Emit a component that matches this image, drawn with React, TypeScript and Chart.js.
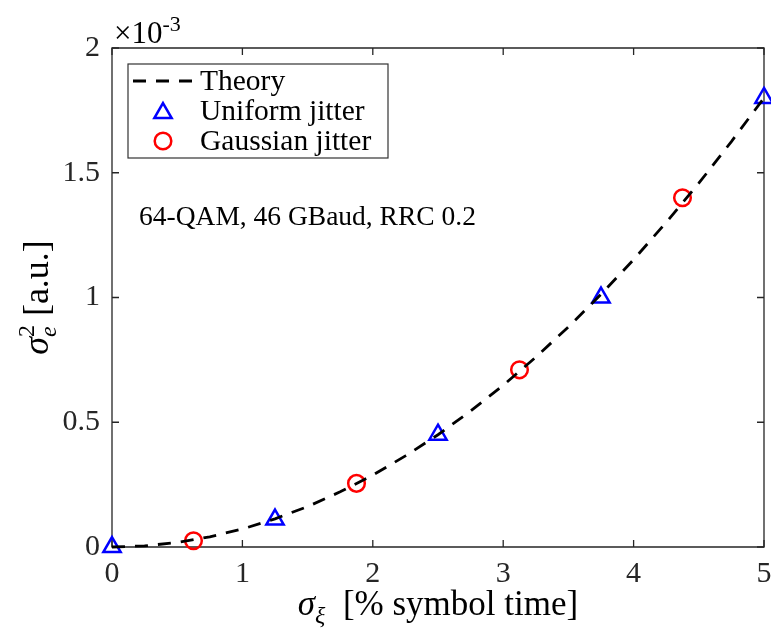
import React, { useEffect, useRef } from "react";
import { Chart, registerables } from "chart.js";

Chart.register(...registerables);

// ---- data (y values in units of 1e-3) ----
const xTicks = [0, 1, 2, 3, 4, 5];
const xTickLabels = ["0", "1", "2", "3", "4", "5"];
const yTicks = [0, 0.5, 1, 1.5, 2];
const yTickLabels = ["0", "0.5", "1", "1.5", "2"];
const yExponent = "-3";

const theoryX = [0, 0.25, 0.5, 0.75, 1, 1.25, 1.5, 1.75, 2, 2.25, 2.5, 2.75, 3, 3.25, 3.5, 3.75, 4, 4.25, 4.5, 4.75, 5];
const theoryY = [0, 0.0045, 0.018, 0.041, 0.072, 0.113, 0.162, 0.221, 0.288, 0.365, 0.45, 0.545, 0.648, 0.761, 0.882, 1.013, 1.152, 1.301, 1.458, 1.625, 1.8];

const uniformX = [0, 1.25, 2.5, 3.75, 5];
const uniformY = [0, 0.11, 0.45, 1.0, 1.8];

const gaussX = [0.625, 1.875, 3.125, 4.375];
const gaussY = [0.025, 0.255, 0.71, 1.4];

const seriesNames = ["Theory", "Uniform jitter", "Gaussian jitter"];
const annotation = "64-QAM, 46 GBaud, RRC 0.2";

const SERIF = "'Liberation Serif', 'Times New Roman', serif";
const AXIS_COLOR = "#262626";
const DASH = [13, 10];

type Run = { t: string; size: number; italic?: boolean; dy?: number; stack?: boolean };

function runsWidth(ctx: CanvasRenderingContext2D, runs: Run[]) {
  let x = 0;
  let prevStart = 0;
  for (const r of runs) {
    ctx.font = `${r.italic ? "italic " : ""}${r.size}px ${SERIF}`;
    const start = r.stack ? prevStart : x;
    const end = start + ctx.measureText(r.t).width;
    prevStart = start;
    x = r.stack ? Math.max(x, end) : end;
  }
  return x;
}

function drawRuns(ctx: CanvasRenderingContext2D, runs: Run[], x0: number, y: number) {
  let x = x0;
  let prevStart = x0;
  ctx.textBaseline = "alphabetic";
  ctx.textAlign = "left";
  for (const r of runs) {
    ctx.font = `${r.italic ? "italic " : ""}${r.size}px ${SERIF}`;
    const start = r.stack ? prevStart : x;
    ctx.fillText(r.t, start, y + (r.dy || 0));
    const end = start + ctx.measureText(r.t).width;
    prevStart = start;
    x = r.stack ? Math.max(x, end) : end;
  }
}

const decorPlugin = {
  id: "decor",
  beforeDatasetsDraw(chart: any) {
    const { ctx, chartArea } = chart;
    const { left, right, top, bottom } = chartArea;
    const xs = chart.scales.x;
    const ys = chart.scales.y;
    ctx.save();
    ctx.strokeStyle = AXIS_COLOR;
    ctx.lineWidth = 1.3;
    ctx.beginPath();
    ctx.rect(left, top, right - left, bottom - top);
    ctx.stroke();
    const tl = 7;
    ctx.beginPath();
    for (const v of xTicks) {
      const px = xs.getPixelForValue(v);
      ctx.moveTo(px, bottom);
      ctx.lineTo(px, bottom - tl);
      ctx.moveTo(px, top);
      ctx.lineTo(px, top + tl);
    }
    for (const v of yTicks) {
      const py = ys.getPixelForValue(v);
      ctx.moveTo(left, py);
      ctx.lineTo(left + tl, py);
      ctx.moveTo(right, py);
      ctx.lineTo(right - tl, py);
    }
    ctx.stroke();
    ctx.restore();
  },
  afterDatasetsDraw(chart: any) {
    const { ctx, chartArea } = chart;
    const { left, right, top, bottom } = chartArea;
    ctx.save();
    ctx.fillStyle = "#000";

    // exponent label
    drawRuns(ctx, [
      { t: "×10", size: 31 },
      { t: yExponent, size: 22, dy: -12 },
    ], left + 2, top - 5);

    // annotation
    ctx.font = `27.5px ${SERIF}`;
    ctx.textAlign = "left";
    ctx.textBaseline = "middle";
    ctx.fillText(annotation, 139, 218);

    // x title
    const xRuns: Run[] = [
      { t: "σ", size: 35, italic: true },
      { t: "ξ", size: 24, italic: true, dy: 8 },
      { t: "  [% symbol time]", size: 35 },
    ];
    const xw = runsWidth(ctx, xRuns);
    drawRuns(ctx, xRuns, (left + right) / 2 - xw / 2, 615);

    // y title
    const yRuns: Run[] = [
      { t: "σ", size: 36, italic: true },
      { t: "e", size: 24, italic: true, dy: 8 },
      { t: "2", size: 24, dy: -14, stack: true },
      { t: " [a.u.]", size: 36 },
    ];
    const yw = runsWidth(ctx, yRuns);
    ctx.save();
    ctx.translate(48, (top + bottom) / 2);
    ctx.rotate(-Math.PI / 2);
    drawRuns(ctx, yRuns, -yw / 2, 0);
    ctx.restore();

    // legend
    const lx = 128, ly = 64, lw = 260, lh = 94;
    ctx.fillStyle = "#fff";
    ctx.fillRect(lx, ly, lw, lh);
    ctx.strokeStyle = "#333";
    ctx.lineWidth = 1.2;
    ctx.strokeRect(lx, ly, lw, lh);
    const rows = [81, 111, 141];
    ctx.strokeStyle = "#000";
    ctx.lineWidth = 2.8;
    ctx.setLineDash(DASH);
    ctx.beginPath();
    ctx.moveTo(133, rows[0]);
    ctx.lineTo(195, rows[0]);
    ctx.stroke();
    ctx.setLineDash([]);
    const r = 10;
    const cx = 163;
    ctx.strokeStyle = "#0000ff";
    ctx.lineWidth = 2.5;
    ctx.beginPath();
    let rad = 0;
    const cy = rows[1] + 2;
    ctx.moveTo(cx + Math.sin(rad) * r, cy - Math.cos(rad) * r);
    rad += (2 * Math.PI) / 3;
    ctx.lineTo(cx + Math.sin(rad) * r, cy - Math.cos(rad) * r);
    rad += (2 * Math.PI) / 3;
    ctx.lineTo(cx + Math.sin(rad) * r, cy - Math.cos(rad) * r);
    ctx.closePath();
    ctx.stroke();
    ctx.strokeStyle = "#ff0000";
    ctx.beginPath();
    ctx.arc(cx, rows[2], 8.3, 0, Math.PI * 2);
    ctx.stroke();
    ctx.fillStyle = "#000";
    ctx.font = `29.5px ${SERIF}`;
    ctx.textAlign = "left";
    ctx.textBaseline = "middle";
    seriesNames.forEach((n, i) => ctx.fillText(n, 200, rows[i] + 1));
    ctx.restore();
  },
};

export default function App() {
  const ref = useRef<HTMLCanvasElement | null>(null);
  useEffect(() => {
    if (!ref.current) return;
    const chart = new Chart(ref.current, {
      type: "scatter",
      data: {
        datasets: [
          {
            label: seriesNames[0],
            data: theoryX.map((x, i) => ({ x, y: theoryY[i] })),
            showLine: true,
            borderColor: "#000",
            borderWidth: 2.8,
            borderDash: DASH,
            pointRadius: 0,
            fill: false,
            clip: false,
          },
          {
            label: seriesNames[1],
            data: uniformX.map((x, i) => ({ x, y: uniformY[i] })),
            pointStyle: "triangle",
            pointRadius: 10,
            pointBorderWidth: 2.5,
            borderColor: "#0000ff",
            backgroundColor: "rgba(0,0,0,0)",
            showLine: false,
            clip: false,
          },
          {
            label: seriesNames[2],
            data: gaussX.map((x, i) => ({ x, y: gaussY[i] })),
            pointStyle: "circle",
            pointRadius: 8.3,
            pointBorderWidth: 2.5,
            borderColor: "#ff0000",
            backgroundColor: "rgba(0,0,0,0)",
            showLine: false,
            clip: false,
          },
        ],
      },
      options: {
        animation: false,
        responsive: false,
        devicePixelRatio: 1,
        layout: { autoPadding: false, padding: { top: 48, right: 7, left: 0, bottom: 0 } },
        plugins: {
          legend: { display: false },
          tooltip: { enabled: false },
        },
        scales: {
          x: {
            type: "linear",
            min: 0,
            max: 5,
            afterBuildTicks: (s: any) => {
              s.ticks = xTicks.map((v) => ({ value: v }));
            },
            afterFit: (s: any) => {
              s.height = 83;
              s.paddingLeft = 0;
              s.paddingRight = 0;
            },
            ticks: {
              callback: (v: any) => xTickLabels[xTicks.indexOf(Number(v))] ?? "",
              font: { family: SERIF, size: 30 },
              color: AXIS_COLOR,
              padding: 9,
              maxRotation: 0,
              autoSkip: false,
            },
            grid: { display: false, drawTicks: false },
            border: { display: false },
          },
          y: {
            type: "linear",
            min: 0,
            max: 2,
            afterBuildTicks: (s: any) => {
              s.ticks = yTicks.map((v) => ({ value: v }));
            },
            afterFit: (s: any) => {
              s.width = 112;
              s.paddingTop = 0;
              s.paddingBottom = 0;
            },
            ticks: {
              callback: (v: any) => yTickLabels[yTicks.indexOf(Number(v))] ?? "",
              font: { family: SERIF, size: 30 },
              color: AXIS_COLOR,
              padding: 12,
              autoSkip: false,
            },
            grid: { display: false, drawTicks: false },
            border: { display: false },
          },
        },
      },
      plugins: [decorPlugin],
    } as any);
    return () => chart.destroy();
  }, []);
  return (
    <div style={{ position: "absolute", left: 0, top: 0, width: 771, height: 630, background: "#fff" }}>
      <canvas ref={ref} width={771} height={630} />
    </div>
  );
}
